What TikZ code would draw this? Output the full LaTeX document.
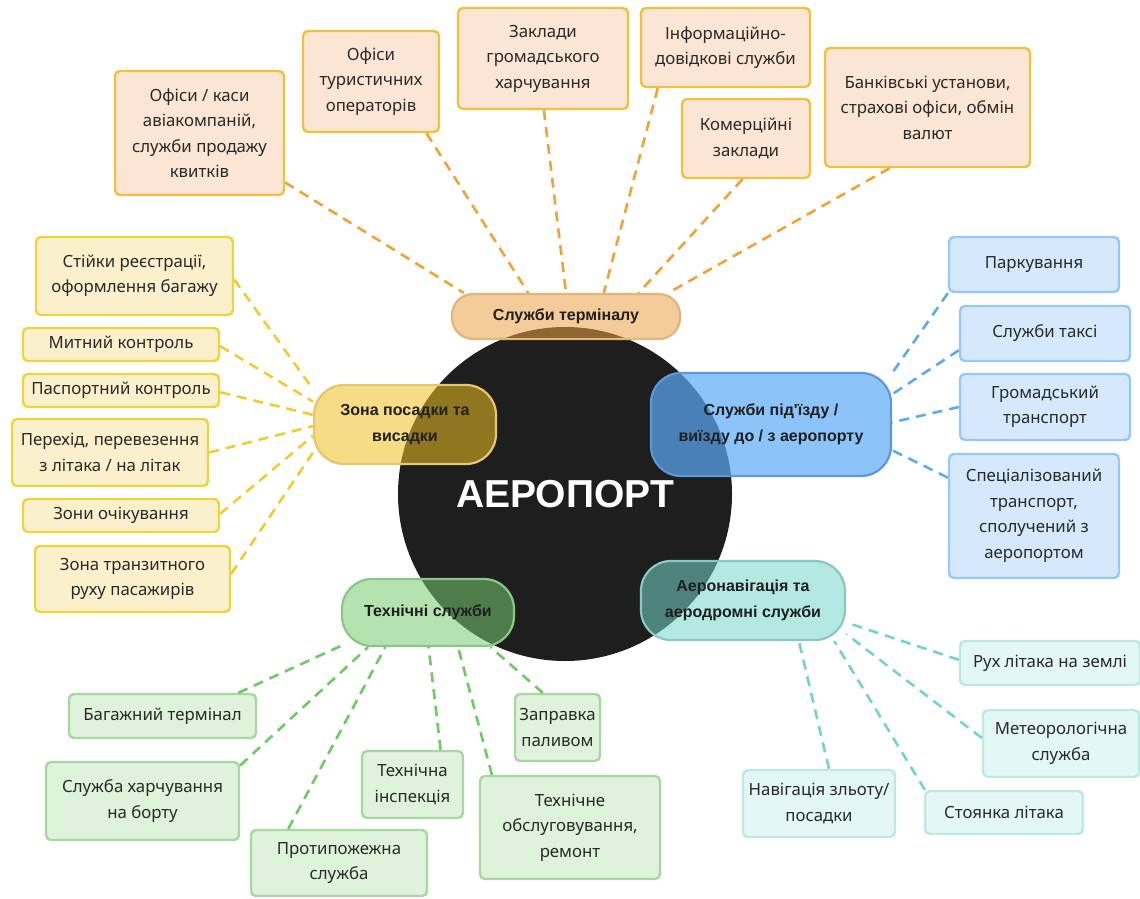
\documentclass[tikz,border=0pt]{standalone}
\usepackage{fontspec}
\setmainfont{Noto Sans}
\newfontfamily\hubfont{Liberation Sans}
\definecolor{circ}{HTML}{1E1E1E}
\definecolor{ink}{HTML}{2A2A2A}
\definecolor{orline}{HTML}{F2A236}
\definecolor{orfill}{HTML}{FBE5D4}
\definecolor{ordraw}{HTML}{EEC23C}
\definecolor{orhub}{RGB}{235,162,70}
\definecolor{orhubdraw}{HTML}{E0B57E}
\definecolor{yeline}{HTML}{F2CA34}
\definecolor{yefill}{HTML}{FBF0CC}
\definecolor{yedraw}{HTML}{ECD43C}
\definecolor{yehub}{RGB}{237,191,33}
\definecolor{yehubdraw}{HTML}{E4C66E}
\definecolor{blline}{HTML}{5EAAF2}
\definecolor{blfill}{HTML}{D6E9FC}
\definecolor{bldraw}{HTML}{94C8F6}
\definecolor{blhub}{RGB}{91,171,248}
\definecolor{blhubdraw}{HTML}{5F97D4}
\definecolor{grline}{HTML}{6CCB62}
\definecolor{grfill}{HTML}{DFF2DB}
\definecolor{grdraw}{HTML}{A8D8A2}
\definecolor{grhub}{RGB}{120,204,111}
\definecolor{grhubdraw}{HTML}{88C788}
\definecolor{tqline}{HTML}{72D5C8}
\definecolor{tqfill}{HTML}{E3F7F5}
\definecolor{tqdraw}{HTML}{BDE8E4}
\definecolor{tqhub}{RGB}{117,213,204}
\definecolor{tqhubdraw}{HTML}{88C8C0}
\begin{document}
\begin{tikzpicture}[x=1pt,y=-1pt,
  leaf/.style={rectangle, rounded corners=5pt, line width=2.4pt, align=center, inner sep=0pt, text=ink, font=\fontsize{16.8}{25.5}\selectfont},
  orleaf/.style={leaf, draw=ordraw, fill=orfill},
  yeleaf/.style={leaf, draw=yedraw, fill=yefill},
  blleaf/.style={leaf, draw=bldraw, fill=blfill},
  grleaf/.style={leaf, draw=grdraw, fill=grfill},
  tqleaf/.style={leaf, draw=tqdraw, fill=tqfill},
  hub/.style={rectangle, line width=2.2pt, rounded corners=30pt, align=center, inner sep=0pt, text=black!88, font=\hubfont\bfseries\fontsize{16}{26}\selectfont, fill opacity=0.55, text opacity=1},
  link/.style={line width=2.6pt, dash pattern=on 10pt off 7pt}]
\useasboundingbox (0,0) rectangle (1140,899);
\node[circle, fill=circ, minimum size=334pt, inner sep=0pt, text=white, font=\hubfont\bfseries\fontsize{39}{39}\selectfont] (airport) at (565,494) {АЕРОПОРТ};

% leaves
\node[orleaf, minimum width=169, minimum height=124] (tickets) at (199.5,133) {Офіси / каси\\авіакомпаній,\\служби продажу\\квитків};
\node[orleaf, minimum width=136, minimum height=101] (tours) at (371,81.5) {Офіси\\туристичних\\операторів};
\node[orleaf, minimum width=170, minimum height=101] (food) at (543,58.5) {Заклади\\громадського\\харчування};
\node[orleaf, minimum width=169, minimum height=79] (info) at (725.5,47.5) {Інформаційно-\\довідкові служби};
\node[orleaf, minimum width=128, minimum height=79] (shops) at (746,138.5) {Комерційні\\заклади};
\node[orleaf, minimum width=205, minimum height=119] (banks) at (927.5,107.5) {Банківські установи,\\страхові офіси, обмін\\валют};

\node[yeleaf, minimum width=197, minimum height=78] (checkin) at (134.5,276) {Стійки реєстрації,\\оформлення багажу};
\node[yeleaf, minimum width=196, minimum height=33] (customs) at (121,344.5) {Митний контроль};
\node[yeleaf, minimum width=196, minimum height=33] (passport) at (121,390.5) {Паспортний контроль};
\node[yeleaf, minimum width=196, minimum height=67] (transfer) at (110,452.5) {Перехід, перевезення\\з літака / на літак};
\node[yeleaf, minimum width=196, minimum height=33] (waiting) at (121,515.5) {Зони очікування};
\node[yeleaf, minimum width=195, minimum height=66] (transit) at (132.5,579) {Зона транзитного\\руху пасажирів};

\node[blleaf, minimum width=170, minimum height=55] (parking) at (1034,264.5) {Паркування};
\node[blleaf, minimum width=170, minimum height=55] (taxi) at (1045,333.5) {Служби таксі};
\node[blleaf, minimum width=170, minimum height=66] (public) at (1045,407) {Громадський\\транспорт};
\node[blleaf, minimum width=170, minimum height=124] (special) at (1034,516) {Спеціалізований\\транспорт,\\сполучений з\\аеропортом};

\node[grleaf, minimum width=187, minimum height=44] (baggage) at (162.5,716) {Багажний термінал};
\node[grleaf, minimum width=193, minimum height=78] (catering) at (142.5,801) {Служба харчування\\на борту};
\node[grleaf, minimum width=176, minimum height=66] (fire) at (339,863) {Протипожежна\\служба};
\node[grleaf, minimum width=101, minimum height=67] (inspect) at (412.5,784.5) {Технічна\\інспекція};
\node[grleaf, minimum width=85, minimum height=67] (fuel) at (557.5,727.5) {Заправка\\паливом};
\node[grleaf, minimum width=180, minimum height=103] (repair) at (570,827.5) {Технічне\\обслуговування,\\ремонт};

\node[tqleaf, minimum width=180, minimum height=44] (taxiing) at (1050,663) {Рух літака на землі};
\node[tqleaf, minimum width=156, minimum height=67] (meteo) at (1061,743.5) {Метеорологічна\\служба};
\node[tqleaf, minimum width=158, minimum height=43] (stand) at (1004,812.5) {Стоянка літака};
\node[tqleaf, minimum width=152, minimum height=67] (nav) at (819,803.5) {Навігація зльоту/\\посадки};

% hubs
\node[hub, draw=orhubdraw, fill=orhub, rounded corners=21pt, minimum width=228, minimum height=45] (terminal) at (566,316.5) {Служби терміналу};
\node[hub, draw=yehubdraw, fill=yehub, minimum width=182, minimum height=79] (boarding) at (405,424.5) {Зона посадки та\\висадки};
\node[hub, draw=blhubdraw, fill=blhub, fill opacity=0.7, minimum width=240, minimum height=103] (access) at (771,424.5) {Служби під'їзду /\\виїзду до / з аеропорту};
\node[hub, draw=grhubdraw, fill=grhub, minimum width=172, minimum height=67] (tech) at (428,612.5) {Технічні служби};
\node[hub, draw=tqhubdraw, fill=tqhub, minimum width=204, minimum height=79] (aero) at (743,600.5) {Аеронавігація та\\аеродромні служби};

% links
\draw[link, orline] (tickets.-30) -- (terminal.167);
\draw[link, orline] (tours.-43) -- (terminal.148);
\draw[link, orline] (food.-89) -- (terminal.90);
\draw[link, orline] (info.-149) -- (terminal.32);
\draw[link, orline] (shops.-95) -- (terminal.18);
\draw[link, orline] (banks.-122) -- (terminal.13);

\draw[link, yeline] (checkin.-2) -- (boarding.159);
\draw[link, yeline] (customs.-1) -- (boarding.166);
\draw[link, yeline] (passport.-1) -- (boarding.174);
\draw[link, yeline] (transfer.east) -- (boarding.181);
\draw[link, yeline] (waiting.1) -- (boarding.187);
\draw[link, yeline] (transit.3) -- (boarding.197);

\draw[link, blline] (parking.south west) -- (access.23);
\draw[link, blline] (taxi.191) -- (access.14);
\draw[link, blline] (public.west) -- (access.1);
\draw[link, blline] (special.156) -- (access.-12);

\draw[link, grline] (baggage.17) -- (tech.-159);
\draw[link, grline] (catering.20) -- (tech.-150);
\draw[link, grline] (fire.146) -- (tech.-141);
\draw[link, grline] (inspect.51) -- (tech.-89);
\draw[link, grline] (repair.146) -- (tech.-49);
\draw[link, grline] (fuel.113) -- (tech.-29);

\draw[link, tqline] (taxiing.178) -- (aero.-12);
\draw[link, tqline] (meteo.176) -- (aero.-18);
\draw[link, tqline] (stand.164) -- (aero.-24);
\draw[link, tqline] (nav.74) -- (aero.-36);
\end{tikzpicture}
\end{document}
